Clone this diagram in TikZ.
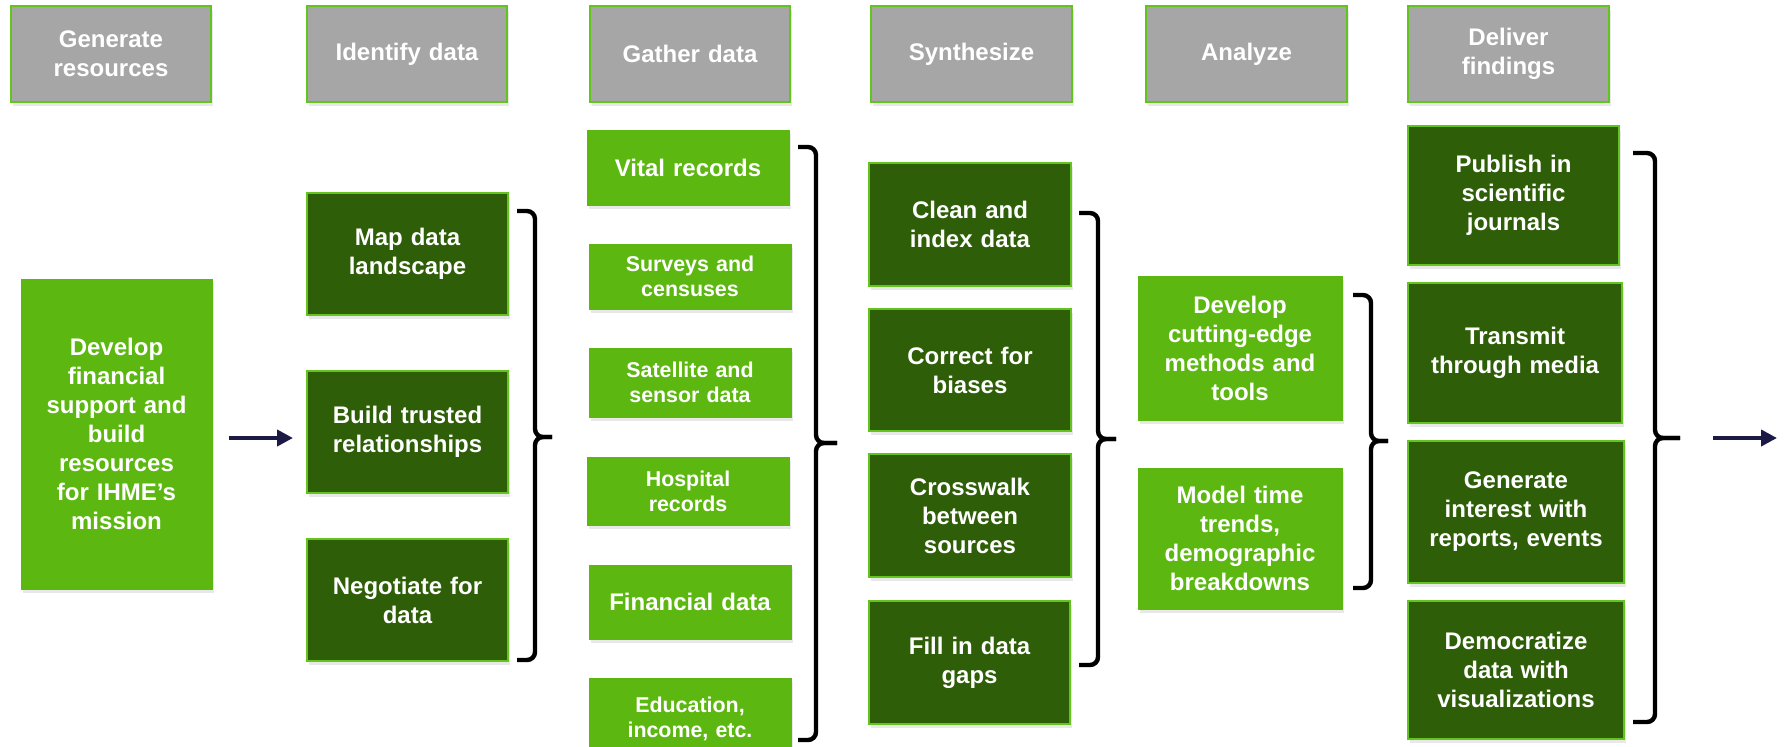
\documentclass[tikz,border=0pt]{standalone}
\usepackage{fontspec}
\setmainfont{Liberation Sans}
\usetikzlibrary{arrows.meta,shadows}
\definecolor{dkg}{HTML}{2E5E07}
\definecolor{ltg}{HTML}{5CB811}
\definecolor{brd}{HTML}{62C41C}
\definecolor{hdr}{HTML}{A6A6A6}
\definecolor{navy}{HTML}{1C1A45}
\tikzset{
 base/.style={rectangle, inner sep=0pt, align=center, text=white,
   font=\bfseries\fontsize{12}{14.5}\selectfont,
   drop shadow={shadow xshift=0.8pt, shadow yshift=-1.8pt, opacity=0.18}},
 hdrbox/.style={base, fill=hdr, draw=brd, line width=1pt},
 dkbox/.style={base, fill=dkg, draw=brd, line width=1pt},
 ltbox/.style={base, fill=ltg, draw=ltg, line width=0.5pt},
 smallt/.style={font=\bfseries\fontsize{10.7}{12.5}\selectfont},
 brk/.style={draw=black, line width=2.2pt, rounded corners=4pt},
 arr/.style={draw=navy, line width=2pt, -{Triangle[length=8pt,width=8pt]}},
}
\newcommand\bx[7]{%
  \pgfmathsetmacro\bxw{(#5-#3)*0.5}%
  \pgfmathsetmacro\bxh{(#6-#4)*0.5}%
  \pgfmathsetmacro\bxt{(#5-#3)*0.5-6}%
  \node[#1, minimum width=\bxw pt, minimum height=\bxh pt, text width=\bxt pt] (#2) at ({(#3+#5)/2},{(#4+#6)/2}) {#7};}
\begin{document}
\begin{tikzpicture}[x=0.5pt,y=-0.5pt]
\useasboundingbox (0,0) rectangle (1787,746);
\clip (0,0) rectangle (1787,746);
\fill[white] (0,0) rectangle (1787,746);
% headers
\bx{hdrbox}{h1}{11}{6}{211}{102}{Generate\\resources}
\bx{hdrbox}{h2}{307}{6}{507}{102}{Identify data}
\bx{hdrbox}{h3}{590}{6}{790}{102}{Gather data}
\bx{hdrbox}{h4}{871}{6}{1072}{102}{Synthesize}
\bx{hdrbox}{h5}{1146}{6}{1347}{102}{Analyze}
\bx{hdrbox}{h6}{1408}{6}{1609}{102}{Deliver\\findings}
% column 1
\bx{ltbox}{main}{21}{279}{212}{589}{Develop\\financial\\support and\\build\\resources\\for IHME’s\\mission}
% column 2
\bx{dkbox}{map}{307}{193}{508}{315}{Map data\\landscape}
\bx{dkbox}{build}{307}{371}{508}{493}{Build trusted\\relationships}
\bx{dkbox}{nego}{307}{539}{508}{661}{Negotiate for\\data}
% column 3
\bx{ltbox}{vital}{587}{130}{789}{205}{Vital records}
\bx{ltbox,smallt}{surv}{589}{244}{791}{309}{Surveys and\\censuses}
\bx{ltbox,smallt}{sat}{589}{348}{791}{417}{Satellite and\\sensor data}
\bx{ltbox,smallt}{hosp}{587}{457}{789}{525}{Hospital\\records}
\bx{ltbox}{fin}{589}{565}{791}{639}{Financial data}
\bx{ltbox,smallt}{edu}{589}{678}{791}{760}{Education,\\income, etc.}
% column 4
\bx{dkbox}{clean}{869}{163}{1071}{286}{Clean and\\index data}
\bx{dkbox}{corr}{869}{309}{1071}{431}{Correct for\\biases}
\bx{dkbox}{cross}{869}{454}{1071}{577}{Crosswalk\\between\\sources}
\bx{dkbox}{fill}{869}{601}{1070}{724}{Fill in data\\gaps}
% column 5
\bx{ltbox}{dev}{1138}{276}{1342}{420}{Develop\\cutting-edge\\methods and\\tools}
\bx{ltbox}{model}{1138}{468}{1342}{609}{Model time\\trends,\\demographic\\breakdowns}
% column 6
\bx{dkbox}{pub}{1408}{126}{1619}{265}{Publish in\\scientific\\journals}
\bx{dkbox}{trans}{1408}{283}{1622}{423}{Transmit\\through media}
\bx{dkbox}{gen}{1408}{441}{1624}{583}{Generate\\interest with\\reports, events}
\bx{dkbox}{demo}{1408}{601}{1624}{739}{Democratize\\data with\\visualizations}
% brackets
\coordinate (b1) at (552,437);
\coordinate (b2) at (837,443);
\coordinate (b3) at (1116,439);
\coordinate (b4) at (1388,441);
\coordinate (b5) at (1680,438);
\coordinate (out) at (1777,438);
\draw[brk] (517,211) -- (535,211) -- (535,437) -- (b1);
\draw[brk] (517,660) -- (535,660) -- (535,437) -- (b1);
\draw[brk] (798,147) -- (816,147) -- (816,443) -- (b2);
\draw[brk] (798,740) -- (816,740) -- (816,443) -- (b2);
\draw[brk] (1079,213) -- (1098,213) -- (1098,439) -- (b3);
\draw[brk] (1079,665) -- (1098,665) -- (1098,439) -- (b3);
\draw[brk] (1353,295) -- (1371,295) -- (1371,441) -- (b4);
\draw[brk] (1353,588) -- (1371,588) -- (1371,441) -- (b4);
\draw[brk] (1633,153) -- (1655,153) -- (1655,438) -- (b5);
\draw[brk] (1633,722) -- (1655,722) -- (1655,438) -- (b5);
% arrows
\draw[arr, shorten <=8pt, shorten >=6.5pt] ([yshift=-2pt]main.east) -- ([yshift=-2pt]main.east -| build.west);
\draw[arr, shorten <=16.5pt] (b5) -- (out);
\end{tikzpicture}
\end{document}
